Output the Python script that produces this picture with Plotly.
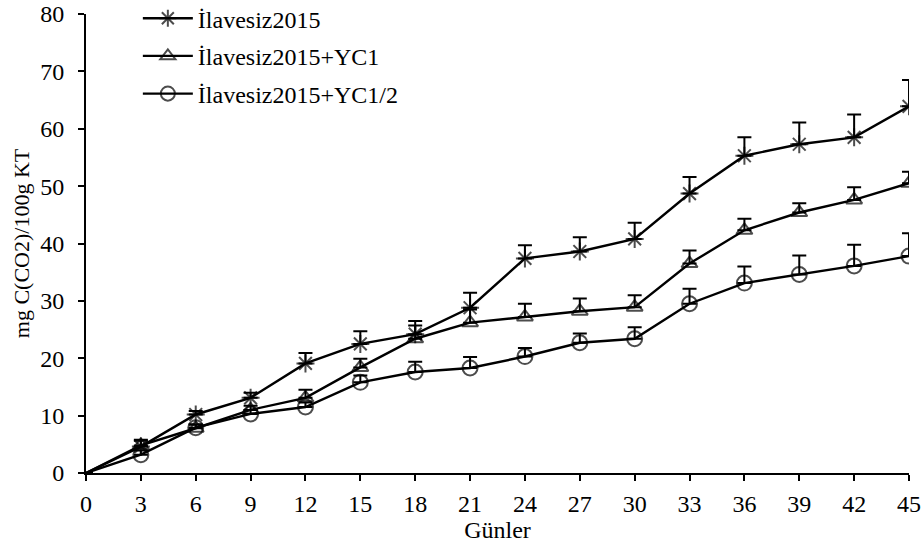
import plotly.graph_objects as go

days = [0, 3, 6, 9, 12, 15, 18, 21, 24, 27, 30, 33, 36, 39, 42, 45]
tick_labels = [str(d) for d in days]

s1_name = "İlavesiz2015"
s1 = [0, 4.6, 10.2, 13.1, 19.1, 22.5, 24.2, 28.8, 37.4, 38.6, 40.8, 48.7, 55.3, 57.3, 58.5, 63.9]
s1_err = [0, 1.0, 0.6, 0.9, 1.8, 2.2, 2.3, 2.6, 2.3, 2.5, 2.8, 2.9, 3.2, 3.8, 4.0, 4.6]

s2_name = "İlavesiz2015+YC1"
s2 = [0, 4.8, 7.8, 11.0, 13.1, 18.4, 23.4, 26.2, 27.2, 28.2, 28.9, 36.5, 42.3, 45.4, 47.6, 50.5]
s2_err = [0, 1.0, 0.6, 0.7, 1.4, 1.5, 2.3, 2.3, 2.3, 2.2, 2.1, 2.3, 2.0, 1.6, 2.2, 2.0]

s3_name = "İlavesiz2015+YC1/2"
s3 = [0, 3.2, 7.9, 10.3, 11.5, 15.8, 17.6, 18.3, 20.3, 22.7, 23.4, 29.5, 33.1, 34.6, 36.1, 37.8]
s3_err = [0, 0.7, 0.6, 0.7, 0.8, 1.2, 1.8, 1.9, 1.5, 1.6, 2.0, 2.6, 2.9, 3.3, 3.7, 4.0]

FONT = "Liberation Serif, Times New Roman, serif"
FS = 24

fig = go.Figure()
specs = [
    (s1_name, s1, s1_err, "asterisk-open", 15),
    (s2_name, s2, s2_err, "triangle-up-open", 14),
    (s3_name, s3, s3_err, "circle-open", 15),
]
for i, (name, ys, errs, sym, sz) in enumerate(specs):
    sizes = [0] + [sz] * (len(days) - 1)
    fig.add_trace(go.Scatter(
        x=days, y=ys, name=name, mode="lines+markers", legendgroup=f"g{i}",
        line=dict(color="black", width=2.4),
        marker=dict(symbol=sym, size=sizes, color="black", line=dict(color="black", width=2)),
        error_y=dict(type="data", array=errs, arrayminus=[0] * len(errs), symmetric=False,
                     color="black", thickness=2, width=7),
    ))

fig.update_layout(
    width=924, height=547,
    margin=dict(l=86, r=15, t=14, b=74, autoexpand=False),
    paper_bgcolor="white", plot_bgcolor="white",
    font=dict(family=FONT, size=FS, color="black"),
    showlegend=True,
    legend=dict(x=0.063, y=1.039, xanchor="left", yanchor="top",
                bgcolor="rgba(0,0,0,0)", font=dict(family=FONT, size=FS, color="black"),
                itemwidth=50, tracegroupgap=3.5),
)
fig.update_xaxes(
    range=[0, 45], tickmode="array", tickvals=days, ticktext=tick_labels,
    showline=True, linecolor="black", linewidth=2, ticks="outside", ticklen=6,
    tickwidth=2, tickcolor="black", showgrid=False, zeroline=False, automargin=False,
    ticklabelstandoff=2, ticklabeloverflow="allow",
    tickfont=dict(family=FONT, size=FS, color="black"),
    title=dict(text="Günler", font=dict(family=FONT, size=FS, color="black"), standoff=2),
)
fig.update_yaxes(
    range=[0, 80], tickmode="array", tickvals=[0, 10, 20, 30, 40, 50, 60, 70, 80],
    showline=True, linecolor="black", linewidth=2, ticks="outside", ticklen=6,
    tickwidth=2, tickcolor="black", showgrid=False, zeroline=False, automargin=False,
    ticklabelstandoff=9, ticklabeloverflow="allow",
    tickfont=dict(family=FONT, size=FS, color="black"),
    title=dict(text="mg C(CO2)/100g KT", font=dict(family=FONT, size=22, color="black"), standoff=5),
)

fig.write_html("out.html", config={"displayModeBar": False},
               post_script="document.body.style.margin='0';")
